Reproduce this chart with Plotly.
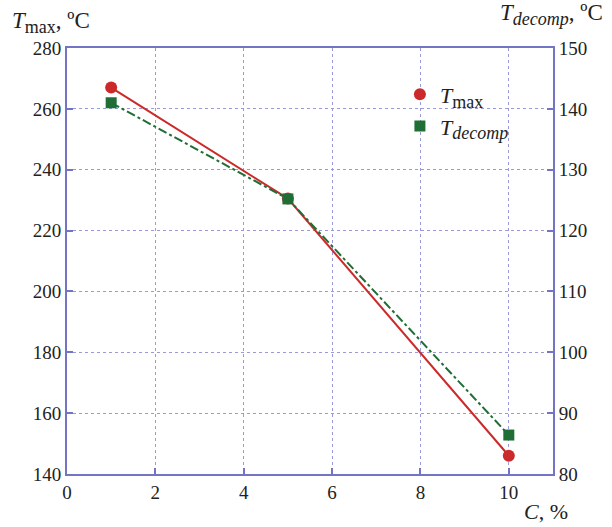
import plotly.graph_objects as go

conc = [1, 5, 10]
t_max = [267, 230.5, 146]
t_decomp = [141, 125.2, 86.4]

x_ticks = [0, 2, 4, 6, 8, 10]
y1_ticks = [140, 160, 180, 200, 220, 240, 260, 280]
y2_ticks = [80, 90, 100, 110, 120, 130, 140, 150]

AX = "#7474c4"
GRID = "#9a9ad8"
FONT = "Liberation Serif"
RED = "#cc2a2a"
GREEN = "#1f6e35"

SUB = '<sub><span style="font-size:18px">{}</span></sub>'
lbl_max = "<i>T</i>" + SUB.format("max")
lbl_dec = "<i>T</i>" + SUB.format("<i>decomp</i>")

fig = go.Figure()
fig.add_trace(go.Scatter(
    x=conc, y=t_max, mode="lines+markers", showlegend=False,
    line=dict(color=RED, width=2),
    marker=dict(symbol="circle", size=12, color=RED),
    yaxis="y"))
fig.add_trace(go.Scatter(
    x=conc, y=t_decomp, mode="lines+markers", showlegend=False,
    line=dict(color=GREEN, width=2, dash="dashdot"),
    marker=dict(symbol="square", size=11, color=GREEN),
    yaxis="y2"))
# legend entries (markers only)
fig.add_trace(go.Scatter(
    x=[None], y=[None], mode="markers", name=lbl_max,
    marker=dict(symbol="circle", size=12, color=RED), yaxis="y"))
fig.add_trace(go.Scatter(
    x=[None], y=[None], mode="markers", name=lbl_dec,
    marker=dict(symbol="square", size=11, color=GREEN), yaxis="y2"))

axis_common = dict(showline=True, linecolor=AX, linewidth=2,
                   ticks="inside", tickcolor=AX, ticklen=6, tickwidth=2,
                   gridcolor=GRID, griddash="dot", gridwidth=1,
                   zeroline=False, tickfont=dict(family=FONT, size=19, color="#222"))

fig.update_layout(
    width=612, height=527,
    margin=dict(l=67, r=59, t=48, b=53),
    paper_bgcolor="white", plot_bgcolor="white",
    font=dict(family=FONT, size=19, color="#222"),
    showlegend=True,
    legend=dict(x=0.685, y=0.94, xanchor="left", yanchor="top",
                bgcolor="rgba(0,0,0,0)", font=dict(family=FONT, size=22),
                itemwidth=30, tracegroupgap=0),
    xaxis=dict(range=[0, 11], tickvals=x_ticks, mirror=True, showgrid=True, **axis_common),
    yaxis=dict(range=[140, 280], tickvals=y1_ticks, mirror=False, showgrid=True, **axis_common),
    yaxis2=dict(range=[80, 150], tickvals=y2_ticks, overlaying="y", side="right",
                showgrid=False, **axis_common),
    annotations=[
        dict(text=lbl_max + ", ºC", xref="paper", yref="paper",
             x=-0.118, y=1.02, xanchor="left", yanchor="bottom", showarrow=False,
             font=dict(family=FONT, size=23)),
        dict(text=lbl_dec + ", ºC", xref="paper", yref="paper",
             x=1.107, y=1.04, xanchor="right", yanchor="bottom", showarrow=False,
             font=dict(family=FONT, size=23)),
        dict(text="<i>C</i>, %", xref="paper", yref="paper",
             x=1.035, y=-0.055, xanchor="right", yanchor="top", showarrow=False,
             font=dict(family=FONT, size=22)),
    ],
)

fig.write_html("out.html")
